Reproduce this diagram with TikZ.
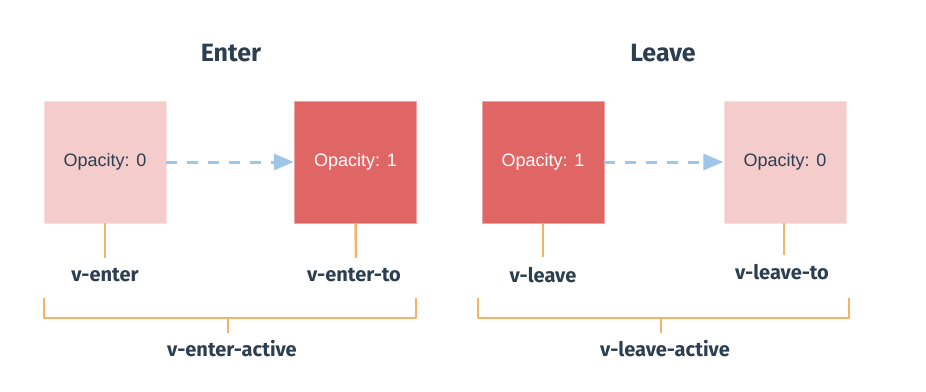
\documentclass[tikz,border=0pt]{standalone}
\usepackage{fontspec}
\setmainfont{Fira Sans}
\newfontfamily\boxfont{Liberation Sans}
\usetikzlibrary{arrows.meta}
\definecolor{fadeC}{HTML}{F4CCCC}
\definecolor{solidC}{HTML}{E06666}
\definecolor{arrowC}{HTML}{9FC5E8}
\definecolor{lineC}{HTML}{F6B26B}
\definecolor{inkC}{HTML}{2C3E50}
\tikzset{
  faded/.style  ={fill=fadeC, draw=fadeC!60, minimum size=122pt, inner sep=0pt,
                  text=inkC, font=\boxfont\fontsize{18}{20}\selectfont},
  solid/.style  ={fill=solidC, draw=solidC!60, minimum size=122pt, inner sep=0pt,
                  text=white, font=\boxfont\fontsize{18}{20}\selectfont},
  fadeArrow/.style={arrowC, line width=3pt, dash pattern=on 11pt off 10pt,
                  -{Triangle[length=20pt,width=16pt]}, shorten >=0.5pt},
  stub/.style   ={lineC, line width=2.5pt},
  brace/.style  ={lineC, line width=2.5pt, line join=round},
  title/.style  ={text=inkC, font=\bfseries\fontsize{25}{28}\selectfont},
  cls/.style    ={text=inkC, font=\bfseries\fontsize{20}{22}\selectfont},
}
\begin{document}
\begin{tikzpicture}[x=1pt, y=-1pt]
  \useasboundingbox (0,0) rectangle (926,391);
  % Enter
  \node[title] (enterT) at (231,53) {Enter};
  \node[faded] (e0) at (105,162) {Opacity: 0};
  \node[solid] (e1) at (355.5,162) {Opacity: 1};
  \draw[fadeArrow] (e0.east) -- (e1.west);
  \coordinate (e0s) at (105,258);
  \coordinate (e1s) at (356,258);
  \draw[stub] (e0.south) -- (e0s);
  \draw[stub] (e1.south) -- (e1s);
  \node[cls] (vEnter)   at (105,275) {v-enter};
  \node[cls] (vEnterTo) at (354,275) {v-enter-to};
  \coordinate (ebL) at (44,298);  \coordinate (ebR) at (416,298);
  \coordinate (ebM) at (228,318); \coordinate (ebD) at (228,333);
  \draw[brace] (ebL) |- (ebM) -| (ebR);
  \draw[stub] (ebM) -- (ebD);
  \node[cls] (vEnterA) at (232,349) {v-enter-active};
  % Leave
  \node[title] (leaveT) at (663,53) {Leave};
  \node[solid] (l1) at (543,162) {Opacity: 1};
  \node[faded] (l0) at (785,162) {Opacity: 0};
  \draw[fadeArrow] (l1.east) -- (l0.west);
  \coordinate (l1s) at (543,257);
  \coordinate (l0s) at (784,255);
  \draw[stub] (l1.south) -- (l1s);
  \draw[stub] ([xshift=-1pt]l0.south) -- (l0s);
  \node[cls] (vLeave)   at (543,275) {v-leave};
  \node[cls] (vLeaveTo) at (782,272) {v-leave-to};
  \coordinate (lbL) at (478,298); \coordinate (lbR) at (849,298);
  \coordinate (lbM) at (661,318); \coordinate (lbD) at (661,333);
  \draw[brace] (lbL) |- (lbM) -| (lbR);
  \draw[stub] (lbM) -- (lbD);
  \node[cls] (vLeaveA) at (665,349) {v-leave-active};
\end{tikzpicture}
\end{document}
